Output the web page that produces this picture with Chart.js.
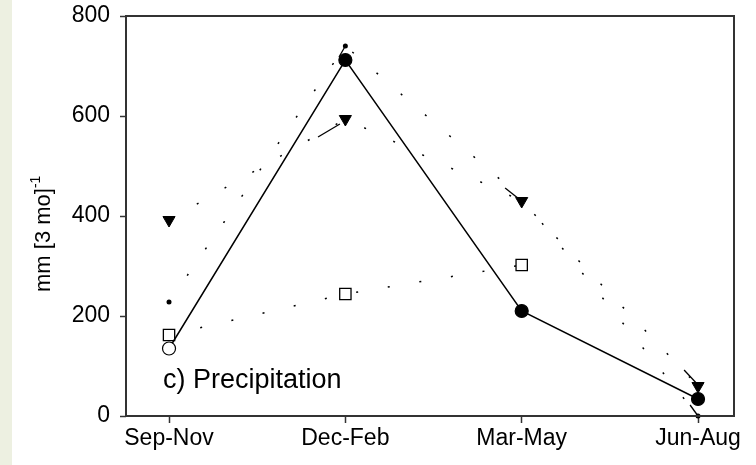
<!DOCTYPE html>
<html>
<head>
<meta charset="utf-8">
<script src="https://cdn.jsdelivr.net/npm/chart.js@4"></script>
<style>
html,body{margin:0;padding:0;background:#fff;}
#wrap{position:relative;width:756px;height:465px;}
</style>
</head>
<body>
<div id="wrap"><canvas id="c"></canvas></div>
<script>
// ---- data ----
const categories = ["Sep-Nov", "Dec-Feb", "Mar-May", "Jun-Aug"];
const yTicks = [0, 200, 400, 600, 800];
const circleSeries   = [135, 712, 210, 34];   // solid line, circles
const triangleSeries = [392, 594, 430, 60];   // dotted, inverted triangles
const squareSeries   = [162, 244, 302, null]; // dotted, open squares
const dotSeries      = [228, 740, 436, 0];    // dotted, small dots
// leader lines [x0, y0, x1, y1] in category-index / mm units
const leaderLines = [
  [0.964, 718, 1.0, 740],
  [0.845, 558, 0.969, 584],
  [1.906, 456, 1.985, 434],
  [2.921, 92, 2.995, 64],
  [2.955, 22, 3.0, 0]
];
const panelLabel = "c) Precipitation";
const yTitle = "mm [3 mo]";
const yTitleSup = "-1";

const toPts = arr => arr.map((v, i) => ({x: i, y: v}));
const FONT = "'Liberation Sans', Arial, sans-serif";

const dotted = {borderColor:'#000', borderWidth:1.5, borderDash:[2,30], borderCapStyle:'butt', fill:false, tension:0};

const datasets = [
  {data: toPts(circleSeries), borderColor:'#000', borderWidth:1.5, pointStyle:'circle',
   pointRadius:6.5, pointBorderWidth:1.2, pointBorderColor:'#000',
   pointBackgroundColor: circleSeries.map((v,i)=> i===0 ? '#fff' : '#000')},
  Object.assign({data: toPts(triangleSeries), pointStyle:'triangle', rotation:180, pointRadius:7,
   pointBackgroundColor:'#000', pointBorderColor:'#000', pointBorderWidth:1}, dotted),
  Object.assign({data: toPts(squareSeries), pointStyle:'rect', pointRadius:8,
   pointBackgroundColor:'#fff', pointBorderColor:'#000', pointBorderWidth:1.3}, dotted),
  Object.assign({data: toPts(dotSeries), pointStyle:'circle',
   pointRadius: dotSeries.map((v,i)=> i===2 ? 0 : 2.5),
   pointBackgroundColor:'#000', pointBorderColor:'#000', pointBorderWidth:0}, dotted)
];
leaderLines.forEach(s => datasets.push({
  data: [{x:s[0], y:s[1]}, {x:s[2], y:s[3]}],
  borderColor:'#000', borderWidth:1.3, pointRadius:0, fill:false
}));

const decor = {
  id:'decor',
  beforeDraw(chart){
    const ctx = chart.ctx;
    ctx.save();
    ctx.fillStyle = '#edf0e1';
    ctx.fillRect(0, 0, 12, chart.height);
    ctx.restore();
  },
  afterDraw(chart){
    const ctx = chart.ctx, a = chart.chartArea;
    ctx.save();
    ctx.strokeStyle = '#333';
    ctx.lineWidth = 2;
    ctx.strokeRect(a.left, a.top, a.right - a.left, a.bottom - a.top);
    // panel label
    ctx.fillStyle = '#000';
    ctx.font = "27px " + FONT;
    ctx.textAlign = 'left';
    ctx.textBaseline = 'alphabetic';
    ctx.fillText(panelLabel, a.left + 37, a.bottom - 28);
    // y title
    ctx.translate(50, 292);
    ctx.rotate(-Math.PI/2);
    ctx.font = "22px " + FONT;
    ctx.fillText(yTitle, 0, 0);
    const w = ctx.measureText(yTitle).width;
    ctx.font = "14px " + FONT;
    ctx.fillText(yTitleSup, w, -10);
    ctx.restore();
  }
};

new Chart(document.getElementById('c'), {
  type:'line',
  data:{datasets},
  plugins:[decor],
  options:{
    responsive:true, maintainAspectRatio:false, animation:false,
    layout:{padding:{left:0, top:16, right:22, bottom:0}},
    plugins:{legend:{display:false}, tooltip:{enabled:false}},
    elements:{line:{tension:0}},
    clip:false,
    scales:{
      x:{type:'linear', min:-0.244, max:3.204,
         afterBuildTicks: s => { s.ticks = categories.map((c,i)=>({value:i})); },
         afterFit: s => { s.height = 49; s.paddingLeft = 0; s.paddingRight = 0; },
         grid:{drawOnChartArea:false, drawTicks:true, tickLength:7, tickColor:'#333', tickWidth:1.5},
         border:{display:false},
         ticks:{color:'#000', font:{size:23, family:FONT}, padding:2, maxRotation:0,
                callback: v => categories[v] ?? ''}},
      y:{min:0, max:800,
         afterBuildTicks: s => { s.ticks = yTicks.map(v=>({value:v})); },
         afterFit: s => { s.width = 126; s.paddingTop = 0; s.paddingBottom = 0; },
         grid:{drawOnChartArea:false, drawTicks:true, tickLength:6, tickColor:'#333', tickWidth:1.5},
         border:{display:false},
         ticks:{color:'#000', font:{size:23, family:FONT}, padding:10}}
    }
  }
});
</script>
</body>
</html>
